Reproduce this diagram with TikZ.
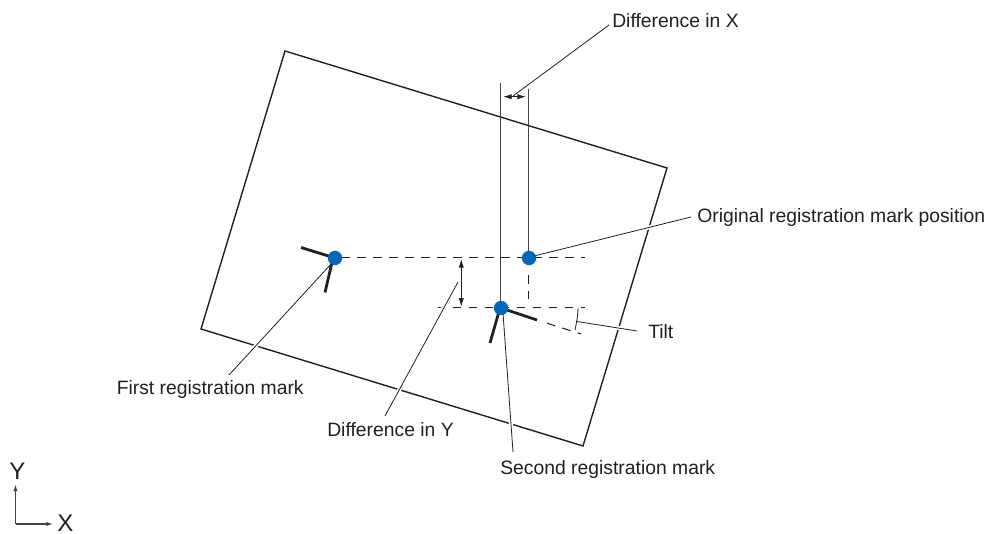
\documentclass[tikz,border=0pt]{standalone}
\usepackage{fontspec}
\setmainfont{Liberation Sans}
\usetikzlibrary{arrows.meta}
\definecolor{dotblue}{RGB}{0,104,183}
\definecolor{ink}{RGB}{35,31,32}
\tikzset{
  x=0.75pt,y=-0.75pt,
  sheet/.style={draw=ink,line width=1.05pt},
  guide/.style={draw=ink!85,line width=0.75pt},
  leader/.style={draw=ink,line width=0.6pt},
  halo/.style={draw=white,line width=3pt},
  dashline/.style={draw=ink,line width=0.75pt,dash pattern=on 6.5pt off 5.5pt},
  markarm/.style={draw=ink,line width=2.1pt},
  bluedot/.style={circle,fill=dotblue,inner sep=0pt,minimum size=10.8pt},
  dimarrow/.style={draw=ink,line width=0.7pt,{Latex[length=6.5pt,width=4pt]}-{Latex[length=6.5pt,width=4pt]}},
  axisarrow/.style={draw=ink!85,line width=0.8pt,-{Latex[length=5pt,width=3.2pt]}},
  lab/.style={font=\fontsize{14.5}{16}\selectfont,text=ink,inner sep=0pt,anchor=west},
  axlab/.style={font=\fontsize{18}{20}\selectfont,text=ink,inner sep=0pt},
}
\begin{document}
\begin{tikzpicture}
\useasboundingbox (0,0) rectangle (986,534);
% sheet
\coordinate (s1) at (285,51);
\coordinate (s2) at (667,168);
\coordinate (s3) at (583,446);
\coordinate (s4) at (201,329);
\draw[sheet] (s1) -- (s2) -- (s3) -- (s4) -- cycle;
% named points
\coordinate (m1) at (335,258);
\coordinate (m0) at (529,258);
\coordinate (m2) at (501,308);
\coordinate (top1) at (500.3,83);
\coordinate (top2) at (528.4,89);
\coordinate (bot2) at (500.3,308);
\coordinate (d1start) at (341.3,258);
\coordinate (d1end) at (585,258);
\coordinate (d2start) at (438,308);
\coordinate (d2stub) at (441,308);
\coordinate (d2mid) at (452.5,308);
\coordinate (d2end) at (585,308);
\coordinate (v0) at (528.4,258);
\coordinate (v1) at (528.4,275);
\coordinate (v2) at (528.4,299);
\coordinate (t0) at (547,323.2);
\coordinate (t1) at (581,334);
\coordinate (a1) at (301,247.5);
\coordinate (a2) at (325,292.5);
\coordinate (a2s) at (333,258);
\coordinate (b1) at (537,320);
\coordinate (b2) at (490,343);
\coordinate (b2s) at (500,308);
% labels
\node[lab] (lx) at (612,20.5) {Difference in X};
\node[lab] (lo) at (697,217.5) {Original registration mark position};
\node[lab] (lt) at (648,331.5) {Tilt};
\node[lab] (lf) at (116.5,389.5) {First registration mark};
\node[lab] (ly) at (327,430) {Difference in Y};
\node[lab] (ls) at (500,469.5) {Second registration mark};
% leader ends
\coordinate (lxe) at (609,25);
\coordinate (lxs) at (513,96);
\coordinate (loe) at (691,217);
\coordinate (los) at (530,257);
\coordinate (lte) at (637,331);
\coordinate (lts) at (577,321.5);
\coordinate (lfe) at (229,375);
\coordinate (lfs) at (332,263);
\coordinate (lye) at (385,416);
\coordinate (lys) at (458,282);
\coordinate (lse) at (513,452);
\coordinate (lss) at (503,313);
% halos where leaders cross the sheet outline
\draw[halo] (lfe) -- (lfs);
\draw[halo] (lye) -- (lys);
\draw[halo] (lse) -- (lss);
\draw[halo] (lte) -- (lts);
\draw[halo] (loe) -- (los);
% guide lines
\draw[guide] (top1) -- (bot2);
\draw[guide] (top2) -- (v0);
\draw[dashline] (d1start) -- (d1end);
\draw[dashline,dash pattern=] (d2start) -- (d2stub);
\draw[dashline] (d2mid) -- (d2end);
\draw[dashline] (v1) -- (v2);
\draw[dashline] (t0) -- (t1);
% tilt arc
\coordinate (arc1) at (578,308);
\coordinate (arc2) at (575,330);
\draw[leader] (arc1) .. controls (578,315) and (576.5,323) .. (arc2);
% dimension arrows
\coordinate (dxa) at (503,96.7);
\coordinate (dxb) at (526,96.7);
\draw[dimarrow] (dxa) -- (dxb);
\coordinate (dya) at (461.3,259);
\coordinate (dyb) at (461.3,306.7);
\draw[dimarrow] (dya) -- (dyb);
% leaders
\draw[leader] (lxe) -- (lxs);
\draw[leader] (loe) -- (los);
\draw[leader] (lte) -- (lts);
\draw[leader] (lfe) -- (lfs);
\draw[leader] (lye) -- (lys);
\draw[leader] (lse) -- (lss);
% registration marks
\draw[markarm] (m1) -- (a1);
\draw[markarm] (a2s) -- (a2);
\draw[markarm] (m2) -- (b1);
\draw[markarm] (b2s) -- (b2);
\node[bluedot] (n1) at (m1) {};
\node[bluedot] (n0) at (m0) {};
\node[bluedot] (n2) at (m2) {};
% axes
\coordinate (o) at (15.5,524);
\coordinate (oy) at (15.5,484.5);
\coordinate (ox) at (53,524);
\draw[axisarrow] (o) -- (oy);
\draw[axisarrow] (o) -- (ox);
\node[axlab] (ylab) at (17.5,471.5) {Y};
\node[axlab] (xlab) at (65.5,523.5) {X};
\end{tikzpicture}
\end{document}
